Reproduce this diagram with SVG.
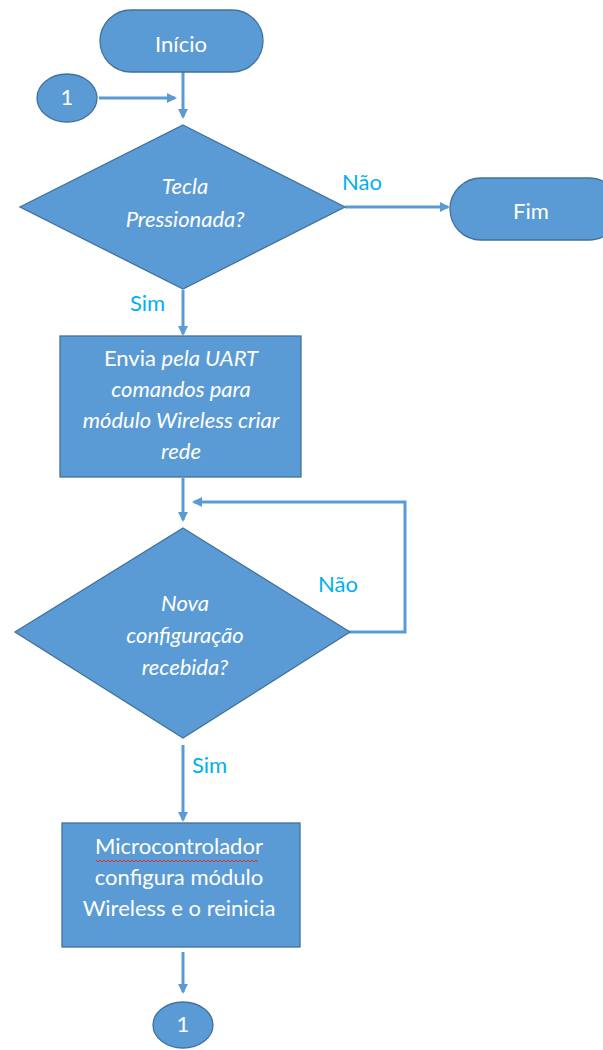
<svg xmlns="http://www.w3.org/2000/svg" width="603" height="1050" viewBox="0 0 603 1050">
<defs>
<style>
.shape{fill:#5b9bd5;stroke:#41719c;stroke-width:1.3}
.t{font-family:Lato,"Liberation Sans",sans-serif;font-size:22px;fill:#ffffff;text-anchor:middle}
.i{font-style:italic}
.lbl{font-family:Lato,"Liberation Sans",sans-serif;font-size:22px;fill:#00b0f0}
.c{fill:none;stroke:#5b9bd5;stroke-width:3}
</style>
<marker id="ah" markerWidth="10" markerHeight="10" refX="8" refY="5" orient="auto" markerUnits="userSpaceOnUse">
<path d="M0,0 L10,5 L0,10 z" fill="#5b9bd5"/>
</marker>
</defs>
<rect width="603" height="1050" fill="#ffffff"/>
<g id="connectors">
<line class="c" x1="183" y1="72" x2="183" y2="117" marker-end="url(#ah)"/>
<line class="c" x1="99" y1="98" x2="175" y2="98" marker-end="url(#ah)"/>
<line class="c" x1="345" y1="207" x2="448" y2="207" marker-end="url(#ah)"/>
<line class="c" x1="183" y1="290" x2="183" y2="334" marker-end="url(#ah)"/>
<line class="c" x1="183" y1="478" x2="183" y2="520" marker-end="url(#ah)"/>
<polyline class="c" points="349,632 405,632 405,502 194,502" marker-end="url(#ah)"/>
<line class="c" x1="183" y1="745" x2="183" y2="820" marker-end="url(#ah)"/>
<line class="c" x1="183" y1="952" x2="183" y2="992" marker-end="url(#ah)"/>
<text class="lbl" x="342" y="190">Não</text>
<text class="lbl" x="130" y="311">Sim</text>
<text class="lbl" x="318" y="592">Não</text>
<text class="lbl" x="192" y="773">Sim</text>
</g>
<g id="inicio">
<rect class="shape" x="100" y="10" width="163" height="62" rx="31" ry="31"/>
<text class="t" x="181" y="52">Início</text>
</g>
<g id="connector1-top">
<ellipse class="shape" cx="67" cy="98" rx="30" ry="24"/>
<text class="t" x="67" y="105">1</text>
</g>
<g id="tecla">
<polygon class="shape" points="183,125 345,207 183,289 20,207"/>
<text class="t i" x="185" y="194">Tecla</text>
<text class="t i" x="185" y="227">Pressionada?</text>
</g>
<g id="fim">
<rect class="shape" x="450" y="178" width="170" height="62" rx="31" ry="31"/>
<text class="t" x="531" y="219">Fim</text>
</g>
<g id="envia">
<rect class="shape" x="60" y="336" width="241" height="141"/>
<text class="t" x="181" y="366">Envia <tspan class="i">pela UART</tspan></text>
<text class="t i" x="181" y="397">comandos para</text>
<text class="t i" x="181" y="428">módulo Wireless criar</text>
<text class="t i" x="181" y="459">rede</text>
</g>
<g id="nova">
<polygon class="shape" points="183,528 350,632 183,738 15,632"/>
<text class="t i" x="185" y="611">Nova</text>
<text class="t i" x="185" y="643">configuração</text>
<text class="t i" x="185" y="675">recebida?</text>
</g>
<g id="micro">
<rect class="shape" x="62" y="823" width="238" height="124"/>
<text class="t" x="179" y="854">Microcontrolador</text>
<path d="M96,860 l2,2 l2,-2 l2,2 l2,-2 l2,2 l2,-2 l2,2 l2,-2 l2,2 l2,-2 l2,2 l2,-2 l2,2 l2,-2 l2,2 l2,-2 l2,2 l2,-2 l2,2 l2,-2 l2,2 l2,-2 l2,2 l2,-2 l2,2 l2,-2 l2,2 l2,-2 l2,2 l2,-2 l2,2 l2,-2 l2,2 l2,-2 l2,2 l2,-2 l2,2 l2,-2 l2,2 l2,-2 l2,2 l2,-2 l2,2 l2,-2 l2,2 l2,-2 l2,2 l2,-2 l2,2 l2,-2 l2,2 l2,-2 l2,2 l2,-2 l2,2 l2,-2 l2,2 l2,-2 l2,2 l2,-2 l2,2 l2,-2 l2,2 l2,-2 l2,2 l2,-2 l2,2 l2,-2 l2,2 l2,-2 l2,2 l2,-2 l2,2 l2,-2 l2,2 l2,-2 l2,2 l2,-2 l2,2 l2,-2 l2,2" fill="none" stroke="#e03030" stroke-width="1"/>
<text class="t" x="179" y="885">configura módulo</text>
<text class="t" x="179" y="916">Wireless e o reinicia</text>
</g>
<g id="connector1-bottom">
<ellipse class="shape" cx="183" cy="1025" rx="30" ry="23"/>
<text class="t" x="183" y="1032">1</text>
</g>
</svg>
